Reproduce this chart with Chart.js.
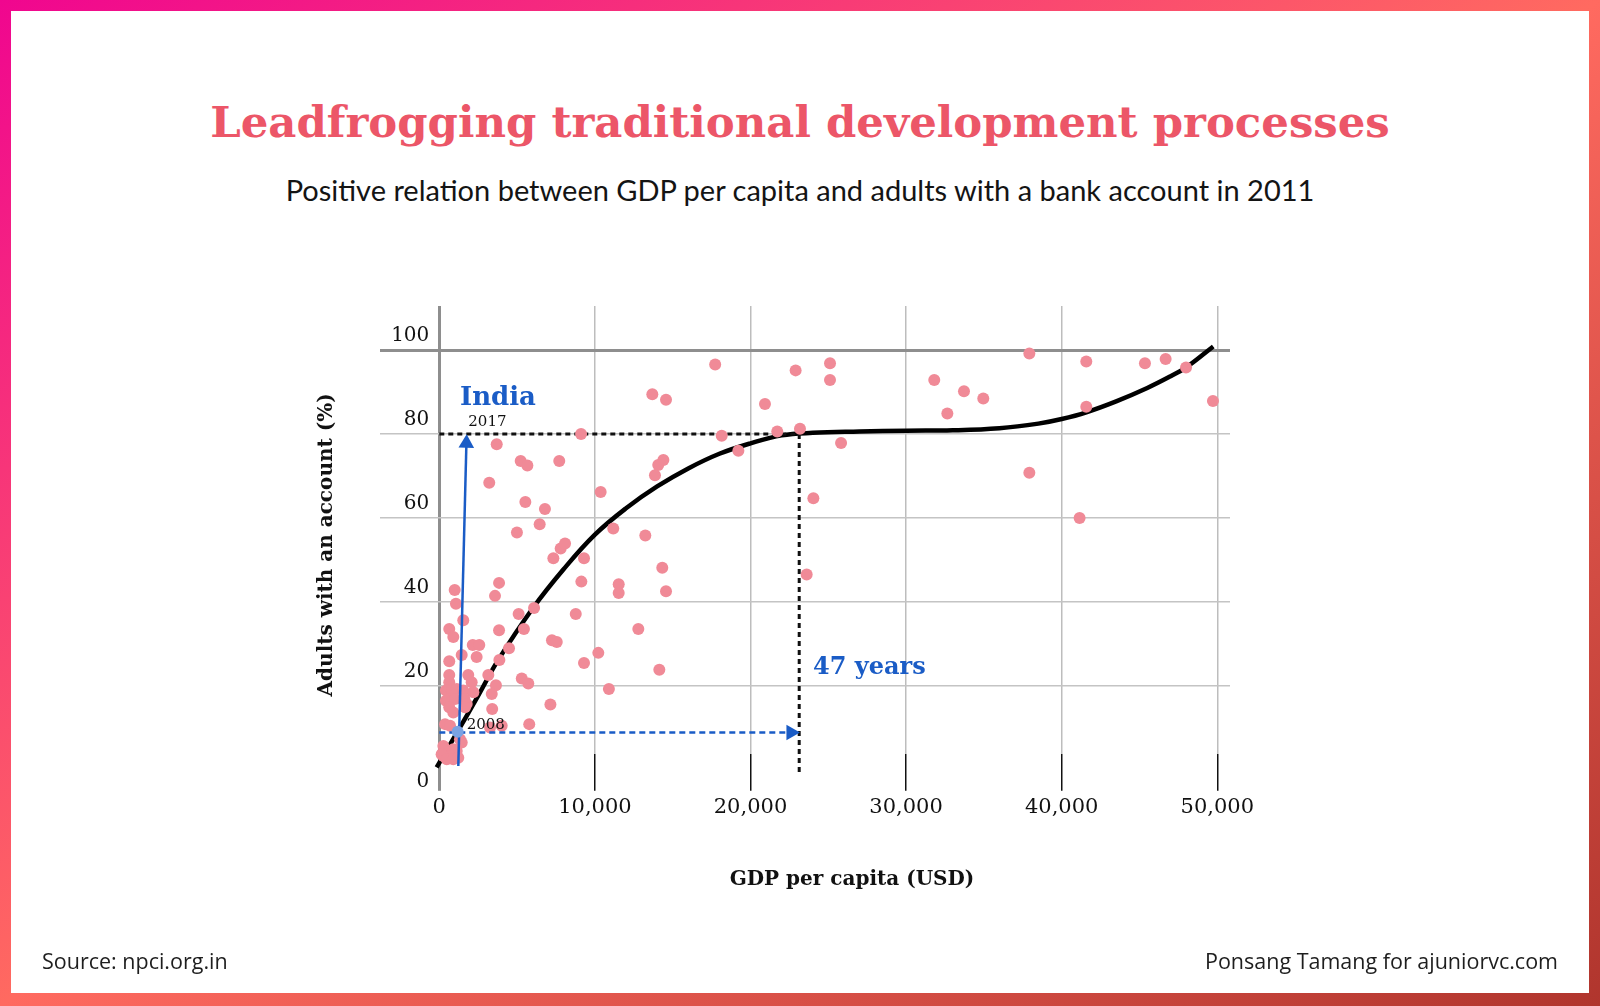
<!DOCTYPE html>
<html lang="en">
<head>
<meta charset="UTF-8">
<title>Leadfrogging traditional development processes</title>
<script src="https://cdn.jsdelivr.net/npm/chart.js"></script>
<style>
  html, body { margin: 0; padding: 0; }
  body {
    width: 1600px; height: 1006px; position: relative; overflow: hidden;
    background: linear-gradient(to bottom right, #f0068f 0%, #ff6a60 50%, #b0352d 100%);
  }
  #card { position: absolute; left: 11px; top: 11px; width: 1578px; height: 982px; background: #fff; }
  #chart { position: absolute; left: 0; top: 0; }
  .line { position: absolute; left: 0; width: 1600px; text-align: center; white-space: nowrap; }
  #title { top: 96px; line-height: 60px; font: bold 43.4px 'DejaVu Serif'; color: #ec5668; }
  #subtitle { top: 170px; line-height: 40px; font-family: Lato; font-size: 29px; color: #141414; }
  .foot { position: absolute; top: 946px; line-height: 30px; font-family: 'Open Sans'; font-size: 21.5px; color: #1e1e1e; white-space: nowrap; }
  #source { left: 42px; }
  #credit { right: 42px; }
</style>
</head>
<body>
<div id="card"></div>
<div id="title" class="line">Leadfrogging traditional development processes</div>
<div id="subtitle" class="line">Positive relation between GDP per capita and adults with a bank account in 2011</div>
<canvas id="chart" width="1600" height="1006"></canvas>
<div id="source" class="foot">Source: npci.org.in</div>
<div id="credit" class="foot">Ponsang Tamang for ajuniorvc.com</div>

<script>
    // countries: GDP per capita (USD) and adults with an account (%)
    var gdpPerCapita = [
        17730, 22900, 13690, 14570, 20930, 9110, 18150, 21720, 23180, 3690,
        5230, 5660, 7710, 14400, 14070, 13860, 19220, 3210, 10370, 5530,
        6790, 6450, 4990, 11180, 13240, 7800, 8080, 7330, 9300, 14330,
        9130, 11530, 11530, 14570, 3840, 3580, 990, 1070, 6090, 5100,
        8770, 1540, 640, 900, 3840, 5440, 12790, 7240, 7550, 2150,
        2570, 2400, 4480, 3860, 1440, 640, 10220, 9300, 14140, 23610,
        24040, 25110, 25110, 25820, 31810, 32650, 33720, 34960, 37920, 37920,
        41580, 41580, 41150, 45350, 46680, 47990, 49720,
        640, 1860, 3150, 640, 2080, 3640, 5300, 5720, 10900, 430,
        800, 1120, 1540, 2190, 3370, 690, 430, 1010, 1610, 1760,
        640, 1650, 3400, 7140, 900, 370, 690, 5780, 3260, 4010,
        1330, 1440, 260, 580, 900, 370, 1120, 260, 690, 150,
        480, 900, 1220, 260
    ];
    var adultsWithAccount = [
        96.6, 95.2, 89.5, 88.2, 87.2, 80.0, 79.6, 80.6, 81.3, 77.6,
        73.6, 72.5, 73.6, 73.8, 72.6, 70.2, 76.0, 68.4, 66.2, 63.8,
        62.1, 58.5, 56.5, 57.5, 55.8, 52.7, 53.9, 50.4, 50.4, 48.1,
        44.8, 44.2, 42.1, 42.5, 44.5, 41.4, 42.8, 39.5, 38.5, 37.1,
        37.1, 35.6, 33.5, 31.6, 33.2, 33.5, 33.5, 30.8, 30.4, 29.7,
        29.7, 26.8, 28.9, 26.1, 27.3, 25.8, 27.8, 25.4, 23.8, 46.5,
        64.7, 96.9, 92.9, 77.9, 92.9, 84.9, 90.2, 88.5, 99.2, 70.8,
        97.3, 86.5, 60.0, 96.9, 97.9, 95.9, 87.9,
        22.5, 22.5, 22.5, 20.8, 20.8, 20.1, 21.7, 20.5, 19.2, 18.8,
        18.8, 19.2, 18.8, 18.4, 18.0, 16.8, 16.4, 16.8, 16.8, 15.6,
        14.8, 14.8, 14.4, 15.5, 13.6, 10.8, 10.4, 10.8, 10.0, 10.4,
        7.2, 6.4, 5.6, 4.4, 4.8, 4.8, 4.4, 3.2, 3.2, 3.6,
        2.4, 2.4, 2.8, 1.6
    ];

    // fitted trend line
    var fitGdp   = [-170, 1200, 2500, 3770, 6020, 8000, 10000, 12000, 14000, 16000, 18000, 20000,
                    22000, 24000, 27000, 30000, 33000, 36000, 38500, 40000, 41580, 43500, 45500,
                    47000, 48000, 49740];
    var fitShare = [0.5, 9.2, 17.6, 26.0, 38.5, 47.8, 56.0, 62.3, 67.5, 71.8, 75.3, 77.8,
                    79.7, 80.3, 80.6, 80.8, 80.9, 81.4, 82.5, 83.6, 85.2, 87.8, 91.0,
                    93.8, 95.9, 100.9];

    // India 2008 -> 2017
    var indiaGdp = [1180];
    var indiaShare = [9.0];
    var indiaArrowGdp = [1221, 1742];
    var indiaArrowShare = [0.8, 77.8];
    var targetGdp = [0, 23130];
    var targetShare = [80, 80];
    var dropGdp = [23130, 23130];
    var dropShare = [80, -1.3];
    var yearsGdp = [0, 22600];
    var yearsShare = [8.8, 8.8];

    var noteTexts = ['India', '2017', '2008', '47 years'];
    var noteGdp = [1330, 1864, 1760, 24017];
    var noteShare = [87.0, 81.95, 9.72, 22.68];

    var xTicks = [0, 10000, 20000, 30000, 40000, 50000];
    var yTicks = [0, 20, 40, 60, 80, 100];
    var yGridLines = [20, 40, 60, 80, 100];

    function pts(xs, ys) {
        var out = [];
        for (var i = 0; i < xs.length; i++) out.push({x: xs[i], y: ys[i]});
        return out;
    }

    var blue = '#1a5cc6';
    var serif = 'DejaVu Serif';

    // y tick labels, axis titles and annotation texts
    var textPlugin = {
        id: 'texts',
        afterDatasetsDraw: function(chart) {
            var c = chart.ctx, xs = chart.scales.x, ys = chart.scales.y;
            c.save();
            c.fillStyle = '#111';
            c.font = '20px "' + serif + '"';
            c.textAlign = 'right';
            c.textBaseline = 'alphabetic';
            var axisX = xs.getPixelForValue(0) - 10;
            for (var i = 0; i < yTicks.length; i++) {
                var py = ys.getPixelForValue(yTicks[i]);
                c.fillText(String(yTicks[i]), axisX, yTicks[i] === 0 ? py + 17.5 : py - 9);
            }
            c.font = 'bold 20px "' + serif + '"';
            c.textAlign = 'center';
            c.textBaseline = 'middle';
            // x title
            c.fillText('GDP per capita (USD)', 852, 880);
            // y title
            c.save();
            c.translate(327, (ys.top + ys.bottom) / 2 + 15);
            c.rotate(-Math.PI / 2);
            c.fillText('Adults with an account (%)', 0, 0);
            c.restore();
            // notes
            c.textAlign = 'left';
            c.textBaseline = 'alphabetic';
            var styles = [
                {font: 'bold 26px "' + serif + '"', color: blue},
                {font: '15px "' + serif + '"', color: '#111'},
                {font: '15px "' + serif + '"', color: '#111'},
                {font: 'bold 24px "' + serif + '"', color: blue}
            ];
            for (var j = 0; j < noteTexts.length; j++) {
                c.font = styles[j].font;
                c.fillStyle = styles[j].color;
                c.fillText(noteTexts[j], xs.getPixelForValue(noteGdp[j]), ys.getPixelForValue(noteShare[j]));
            }
            c.restore();
        }
    };

    var ctx = document.getElementById('chart');
    var chart = new Chart(ctx, {
        type: 'scatter',
        data: {
            datasets: [
                {
                    label: 'India 2008',
                    data: pts(indiaGdp, indiaShare),
                    backgroundColor: '#7ba3e3', borderWidth: 0, pointRadius: 6,
                    order: 0, clip: false
                },
                {
                    label: 'India arrow',
                    data: pts(indiaArrowGdp, indiaArrowShare),
                    showLine: true, borderColor: blue, borderWidth: 2.5,
                    pointRadius: [0, 9], pointStyle: 'triangle', rotation: 1.5,
                    pointBackgroundColor: blue, pointBorderWidth: 0,
                    order: 1, clip: false
                },
                {
                    label: '47 years',
                    data: pts(yearsGdp, yearsShare),
                    showLine: true, borderColor: blue, borderWidth: 2.5, borderDash: [6, 4],
                    pointRadius: [0, 9], pointStyle: 'triangle', rotation: 90,
                    pointBackgroundColor: blue, pointBorderWidth: 0,
                    order: 1, clip: false
                },
                {
                    label: 'Countries',
                    data: pts(gdpPerCapita, adultsWithAccount),
                    backgroundColor: '#f08a97', borderWidth: 0, pointRadius: 6,
                    order: 2, clip: false
                },
                {
                    label: '80%',
                    data: pts(targetGdp, targetShare),
                    showLine: true, borderColor: '#111', borderWidth: 3, borderDash: [5, 4],
                    pointRadius: 0, order: 3, clip: false
                },
                {
                    label: 'drop',
                    data: pts(dropGdp, dropShare),
                    showLine: true, borderColor: '#111', borderWidth: 3, borderDash: [5, 4],
                    pointRadius: 0, order: 3, clip: false
                },
                {
                    label: 'Fit',
                    data: pts(fitGdp, fitShare),
                    showLine: true, borderColor: '#000', borderWidth: 4.5,
                    tension: 0.4, pointRadius: 0,
                    order: 4, clip: false
                }
            ]
        },
        options: {
            responsive: false,
            animation: false,
            events: [],
            layout: {padding: {left: 380, top: 306, right: 370, bottom: 182}},
            plugins: {legend: {display: false}, tooltip: {enabled: false}},
            scales: {
                x: {
                    type: 'linear', min: -3811, max: 50816,
                    afterBuildTicks: function(s) { s.ticks = xTicks.map(function(v) { return {value: v}; }); },
                    border: {display: false},
                    grid: {
                        color: function(c) { return c.tick && c.tick.value === 0 ? '#8e8e8e' : '#bdbdbd'; },
                        lineWidth: function(c) { return c.tick && c.tick.value === 0 ? 3 : 1.5; },
                        tickColor: function(c) { return c.tick && c.tick.value === 0 ? '#8e8e8e' : '#111'; },
                        tickWidth: function(c) { return c.tick && c.tick.value === 0 ? 3 : 1.5; },
                        tickLength: 37
                    },
                    ticks: {
                        autoSkip: false, maxRotation: 0, padding: 4, color: '#111',
                        font: {family: serif, size: 21},
                        callback: function(v) { return v.toLocaleString('en-US'); }
                    }
                },
                y: {
                    min: 3.72, max: 110.56,
                    afterBuildTicks: function(s) { s.ticks = yGridLines.map(function(v) { return {value: v}; }); },
                    border: {display: false},
                    ticks: {display: false},
                    grid: {
                        drawTicks: false,
                        color: function(c) { return c.tick && c.tick.value === 100 ? '#8e8e8e' : '#c4c4c4'; },
                        lineWidth: function(c) { return c.tick && c.tick.value === 100 ? 3 : 1.5; }
                    }
                }
            }
        },
        plugins: [textPlugin]
    });
</script>
</body>
</html>
